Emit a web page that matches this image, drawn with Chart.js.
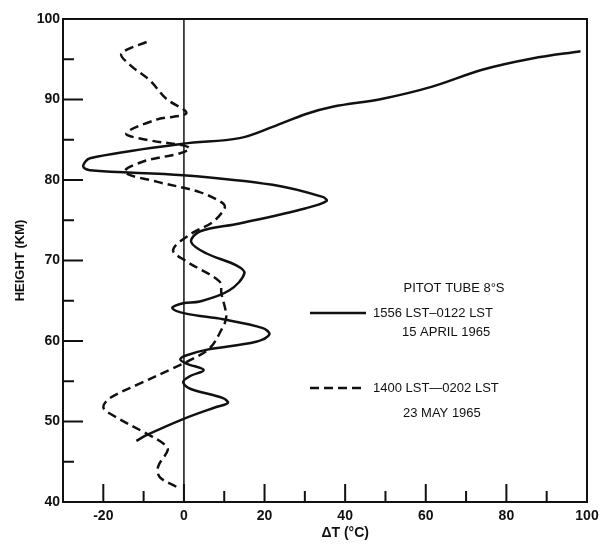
<!DOCTYPE html>
<html>
<head>
<meta charset="utf-8">
<script src="https://cdn.jsdelivr.net/npm/chart.js@4/dist/chart.umd.min.js"></script>
<style>
	html, body { margin: 0; padding: 0; background: #fff; }
</style>
</head>
<body>
<canvas id="myChart" width="599" height="550"></canvas>
<script>
// solid curve: 1556 LST-0122 LST, 15 April 1965 (read bottom to top)
const aprilHeight = [47.6, 48.3, 50.3, 51.8, 52.3, 52.9, 54.1, 54.9, 55.6, 56.4, 57.2, 57.7, 58.2, 58.9, 59.9, 60.8, 61.6, 62.7, 63.4, 64.1, 64.7, 64.9, 66.3, 68.4, 69.4, 70.9, 72.3, 73.6, 74.6, 76.5, 77.4, 77.9, 79.4, 80.6, 81.2, 81.7, 82.7, 84.5, 85.2, 86.6, 88.2, 89.1, 90.1, 91.6, 93.7, 95.1, 96.0]
const aprilDT = [-11.8, -9.3, -0.2, 8, 10.9, 9.7, 1.4, -0.2, 1.4, 4.9, 0.6, -0.9, 0.5, 5.5, 17.9, 21.2, 19.6, 9.7, 0.5, -2.9, -0.2, 3.9, 11.3, 15, 13, 5.5, 1.8, 3.9, 13.8, 30.3, 35.4, 34.4, 22, -0.2, -23.3, -25, -23.3, -0.2, 13.8, 22, 30.3, 36.9, 49.3, 61.6, 74, 86.4, 98.4]

// dashed curve: 1400 LST-0202 LST, 23 May 1965
const mayHeight = [41.9, 43.1, 44.4, 46.5, 47.3, 48.5, 51.0, 51.8, 52.9, 54.7, 56.6, 57.6, 59.1, 61.4, 63.0, 65.9, 67.4, 69.9, 71.3, 73.2, 74.8, 76.5, 77.1, 78.5, 79.8, 81.0, 82.3, 83.3, 83.9, 84.3, 85.0, 85.8, 87.5, 88.3, 90.1, 92.4, 94.3, 95.7, 97.3]
const mayDT = [-1.9, -6, -6.4, -4, -5.2, -9.3, -18.4, -20, -18.4, -11, -2.7, 1.4, 6.4, 9.3, 10.5, 9.3, 8.8, 0.6, -2.7, 1.4, 7.2, 10.1, 9.7, 3.9, -6.8, -14.7, -10.1, -1.1, 1.4, -0.2, -9.3, -14.3, -6.8, 0.6, -4.4, -8.5, -13.4, -15.5, -8.5]

const xLabels = [-20, 0, 20, 40, 60, 80, 100]
const yLabels = [40, 50, 60, 70, 80, 90, 100]

const legendTitle = "PITOT TUBE 8°S"
const legendSolid = ["1556 LST–0122 LST", "15 APRIL 1965"]
const legendDashed = ["1400 LST—0202 LST", "23 MAY 1965"]

const FONT = "'Liberation Sans', Arial, sans-serif"
const INK = "#111"

function toPoints(xs, ys) {
	return xs.map((x, i) => ({ x: x, y: ys[i] }))
}

// keep the plot box where the original has it
function noEdgePadding(s) {
	s.paddingLeft = 0
	s.paddingRight = 0
	s.paddingTop = 0
	s.paddingBottom = 0
}

const frameAndTicks = {
	id: "frameAndTicks",
	beforeDatasetsDraw(chart) {
		const ctx = chart.ctx
		const area = chart.chartArea
		const x0 = chart.scales.x.getPixelForValue(0)
		ctx.save()
		ctx.strokeStyle = INK
		ctx.lineWidth = 1.5
		ctx.beginPath()
		ctx.moveTo(x0, area.top)
		ctx.lineTo(x0, area.bottom)
		ctx.stroke()
		ctx.restore()
	},
	afterDatasetsDraw(chart) {
		const ctx = chart.ctx
		const area = chart.chartArea
		const xs = chart.scales.x
		const ys = chart.scales.y
		ctx.save()
		ctx.strokeStyle = INK
		ctx.lineWidth = 2
		ctx.strokeRect(area.left, area.top, area.right - area.left, area.bottom - area.top)

		// ticks point inward
		ctx.beginPath()
		xs.ticks.forEach(t => {
			const px = xs.getPixelForValue(t.value)
			const len = xLabels.includes(t.value) ? 18 : 11
			ctx.moveTo(px, area.bottom)
			ctx.lineTo(px, area.bottom - len)
		})
		ys.ticks.forEach(t => {
			const py = ys.getPixelForValue(t.value)
			const len = yLabels.includes(t.value) ? 20 : 11
			ctx.moveTo(area.left, py)
			ctx.lineTo(area.left + len, py)
		})
		ctx.stroke()

		// x axis title
		ctx.fillStyle = INK
		ctx.font = "bold 14px " + FONT
		ctx.textAlign = "center"
		ctx.textBaseline = "middle"
		ctx.fillText("ΔT (°C)", xs.getPixelForValue(40), 533)

		// legend
		const datasets = chart.data.datasets
		ctx.font = "13px " + FONT
		ctx.fillText(legendTitle, 454, 288)
		ctx.textAlign = "left"
		ctx.fillText(legendSolid[0], 373, 313)
		ctx.fillText(legendSolid[1], 402, 332)
		ctx.fillText(legendDashed[0], 373, 388)
		ctx.fillText(legendDashed[1], 403, 413)

		ctx.lineWidth = datasets[0].borderWidth
		ctx.beginPath()
		ctx.moveTo(310, 313)
		ctx.lineTo(366, 313)
		ctx.stroke()
		ctx.setLineDash(datasets[1].borderDash)
		ctx.beginPath()
		ctx.moveTo(310, 388)
		ctx.lineTo(366, 388)
		ctx.stroke()
		ctx.restore()
	}
}

new Chart("myChart", {
	type: "scatter",
	data: {
		datasets: [
			{
				label: legendSolid.join(" "),
				data: toPoints(aprilDT, aprilHeight),
				showLine: true,
				borderColor: INK,
				borderWidth: 2.5,
				pointRadius: 0,
				tension: 0.35
			},
			{
				label: legendDashed.join(" "),
				data: toPoints(mayDT, mayHeight),
				showLine: true,
				borderColor: INK,
				borderWidth: 2.5,
				borderDash: [9, 5],
				pointRadius: 0,
				tension: 0.35
			}
		]
	},
	options: {
		responsive: false,
		animation: false,
		layout: {
			padding: { top: 19, right: 12, left: 0, bottom: 0 }
		},
		plugins: {
			legend: { display: false },
			tooltip: { enabled: false }
		},
		scales: {
			x: {
				type: "linear",
				min: -30,
				max: 100,
				grid: { display: false, drawTicks: false, tickLength: 0 },
				border: { display: false },
				ticks: {
					stepSize: 10,
					autoSkip: false,
					maxRotation: 0,
					padding: 6,
					color: INK,
					font: { family: FONT, size: 14, weight: "bold" },
					callback: v => xLabels.includes(v) ? String(v) : ""
				},
				afterFit: s => {
					s.height = 48
					noEdgePadding(s)
				}
			},
			y: {
				min: 40,
				max: 100,
				grid: { display: false, drawTicks: false, tickLength: 0 },
				border: { display: false },
				ticks: {
					stepSize: 5,
					autoSkip: false,
					padding: 3,
					color: INK,
					font: { family: FONT, size: 14, weight: "bold" },
					callback: v => yLabels.includes(v) ? String(v) : ""
				},
				title: {
					display: true,
					text: "HEIGHT (KM)",
					color: INK,
					padding: { top: 13, bottom: 0 },
					font: { family: FONT, size: 13, weight: "bold" }
				},
				afterFit: s => {
					s.width = 63
					noEdgePadding(s)
				}
			}
		}
	},
	plugins: [frameAndTicks]
})
</script>
</body>
</html>
